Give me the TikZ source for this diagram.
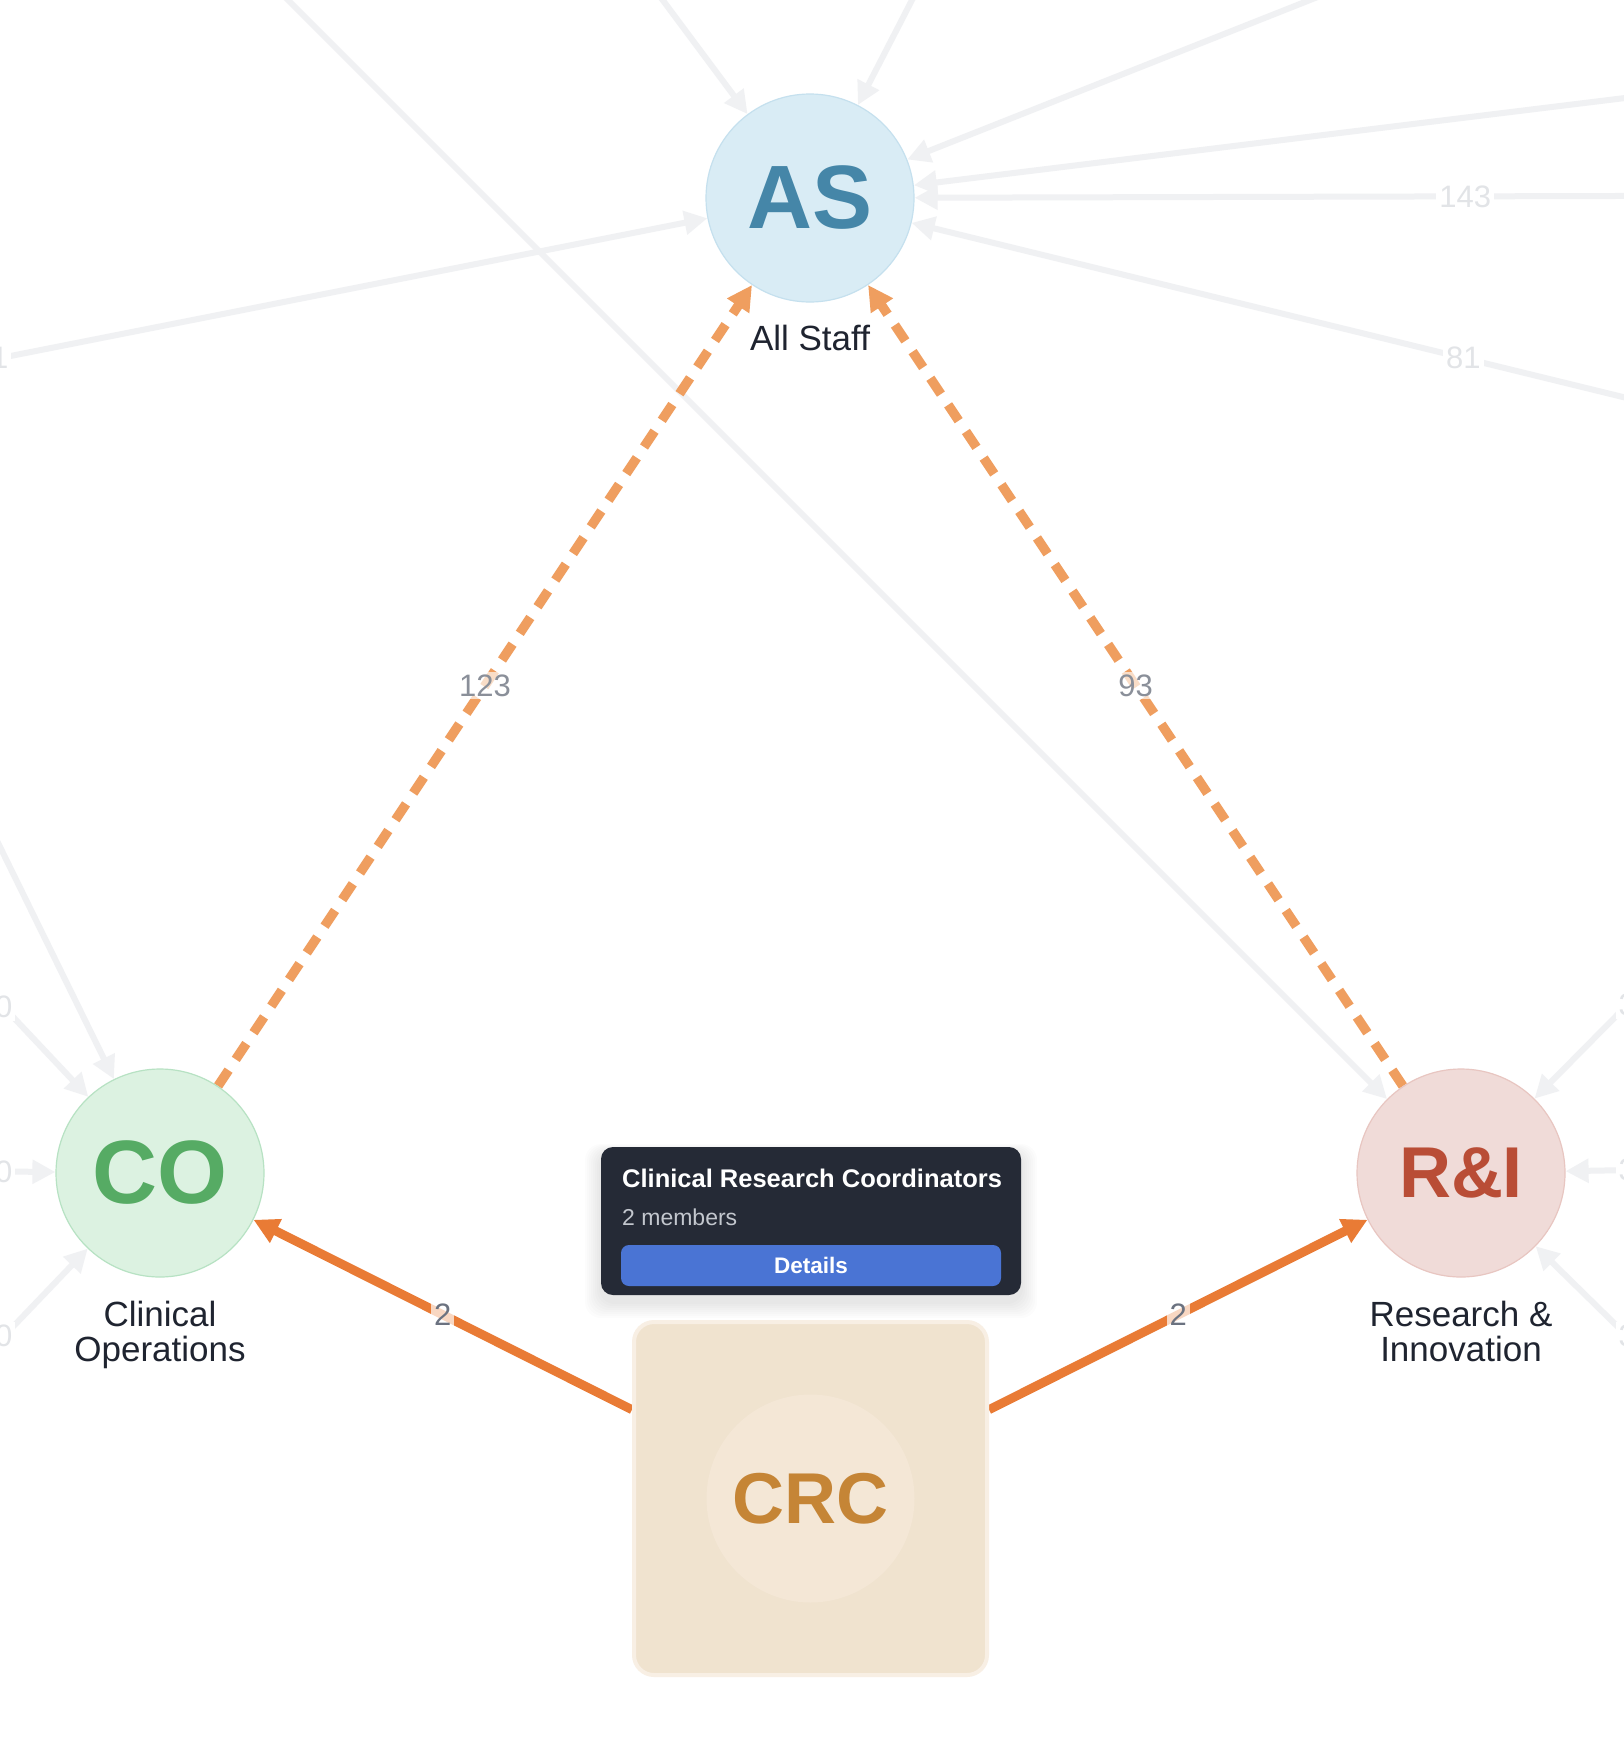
\documentclass[tikz,border=0pt]{standalone}
\usepackage{fontspec}
\setmainfont{Liberation Sans}
\usetikzlibrary{arrows.meta}
\newcommand\myfs[1]{\fontsize{#1pt}{#1pt}\selectfont}
\definecolor{asfill}{HTML}{D9ECF5}
\definecolor{asline}{HTML}{C5E0EE}
\definecolor{astext}{HTML}{4586A8}
\definecolor{cofill}{HTML}{DCF2E1}
\definecolor{coline}{HTML}{B7E2C3}
\definecolor{cotext}{HTML}{56AB64}
\definecolor{rifill}{HTML}{F0DBD8}
\definecolor{riline}{HTML}{E8C6C1}
\definecolor{ritext}{HTML}{B94D36}
\definecolor{crcfill}{HTML}{F0E3CF}
\definecolor{crcline}{HTML}{F8EFE4}
\definecolor{crcdisc}{HTML}{F4E7D6}
\definecolor{crctext}{HTML}{C58536}
\definecolor{tipbg}{HTML}{252A36}
\definecolor{tipsub}{HTML}{C3C7CE}
\definecolor{btnblue}{HTML}{4A74D4}
\definecolor{orange}{HTML}{E97B35}
\definecolor{orangedash}{HTML}{EF9E5F}
\definecolor{grayline}{HTML}{F0F1F3}
\definecolor{graytext}{HTML}{E2E4E7}
\definecolor{lbltext}{HTML}{8A8F99}
\definecolor{lbltwo}{HTML}{6B7280}
\definecolor{dark}{HTML}{1F2430}
\pgfdeclarelayer{bottom}
\pgfdeclarelayer{edges}
\pgfsetlayers{bottom,edges,main}
\begin{document}
\begin{tikzpicture}[x=1pt,y=-1pt,
  circ/.style={circle, minimum size=208pt, inner sep=0pt, line width=1.2pt},
  big/.style={font=\bfseries\myfs{90}},
  lbl/.style={text=dark, font=\myfs{35}, inner sep=0pt, align=center},
  grayedge/.style={draw=grayline, line width=6pt, -{Triangle[length=23pt,width=23pt]}},
  dashedge/.style={draw=orangedash, line width=9.5pt, dash pattern=on 19pt off 13pt, -{Triangle[length=25pt,width=25pt]}},
  solidedge/.style={draw=orange, line width=9pt, -{Triangle[length=25pt,width=25pt]}},
  graylbl/.style={fill=white, text=graytext, font=\myfs{31}, inner sep=3pt},
  orlbl/.style={fill=white, fill opacity=0.65, text opacity=1, text=lbltext, font=\myfs{31}, inner sep=3pt},
  twolbl/.style={fill=white, fill opacity=0.7, text opacity=1, text=lbltwo, font=\myfs{31}, inner sep=3pt},
]
\useasboundingbox (0,0) rectangle (1624,1748);
\clip (0,0) rectangle (1624,1748);
\begin{pgfonlayer}{bottom}
\fill[white] (0,0) rectangle (1624,1748);
\end{pgfonlayer}

% main nodes
\node[circ, fill=asfill, draw=asline, text=astext, big] (AS) at (810,198) {AS};
\node[circ, fill=cofill, draw=coline, text=cotext, big] (CO) at (160,1173) {CO};
\node[circ, fill=rifill, draw=riline, text=ritext, font=\bfseries\myfs{72}] (RI) at (1461,1173) {R\&I};
\node[rectangle, minimum size=353pt, inner sep=0pt, rounded corners=20pt, fill=crcfill, draw=crcline, line width=4pt] (CRCbox) at (810.5,1498.5) {};
\node[circle, minimum size=208pt, inner sep=0pt, fill=crcdisc, text=crctext, font=\bfseries\myfs{72}] (CRC) at (CRCbox.center) {CRC};

\node[lbl, anchor=base] (ASlbl) at (810,350) {All Staff};
\node[lbl, anchor=base] (COlbl) at (160,1361) {Clinical\\Operations};
\node[lbl, anchor=base] (RIlbl) at (1461,1361) {Research \&\\Innovation};

% free ends of background edges
\coordinate (g1) at (188,-100);
\coordinate (g2) at (589,-99);
\coordinate (g3) at (963,-99);
\coordinate (g4) at (1560,-99);
\coordinate (g5) at (2000,52);
\coordinate (g6) at (2016,195);
\coordinate (g7) at (2015,493);
\coordinate (g8) at (-708,498);
\coordinate (g9) at (-100,643);
\coordinate (g10) at (-81,917);
\coordinate (g11) at (-48,1171);
\coordinate (g12) at (-80,1424);
\coordinate (g13) at (1720,911);
\coordinate (g14) at (1689,1169);
\coordinate (g15) at (1719,1426);

\begin{pgfonlayer}{edges}
\draw[grayedge] (g1) -- (RI);
\draw[grayedge] (g2) -- (AS);
\draw[grayedge] (g3) -- (AS);
\draw[grayedge] (g4) -- (AS);
\draw[grayedge] (g5) -- (AS);
\draw[grayedge] (g6) -- node[graylbl] {143} (AS);
\draw[grayedge] (g7) -- node[graylbl] {81} (AS);
\draw[grayedge] (g8) -- node[graylbl] {1} (AS);
\draw[grayedge] (g9) -- (CO);
\draw[grayedge] (g10) -- node[graylbl] {0} (CO);
\draw[grayedge] (g11) -- node[graylbl] {0} (CO);
\draw[grayedge] (g12) -- node[graylbl] {0} (CO);
\draw[grayedge] (g13) -- node[graylbl] {3} (RI);
\draw[grayedge] (g14) -- node[graylbl] {3} (RI);
\draw[grayedge] (g15) -- node[graylbl] {3} (RI);
\draw[dashedge] (CO) -- node[orlbl] {123} (AS);
\draw[dashedge] (RI) -- node[orlbl] {93} (AS);
\draw[solidedge] (CRCbox) -- node[twolbl] {2} (CO);
\draw[solidedge] (CRCbox) -- node[twolbl] {2} (RI);
\end{pgfonlayer}

% tooltip
\foreach \s in {2,4,...,16} {
  \fill[black, opacity=0.011, rounded corners=16pt] (601-\s,1152-0.5*\s) rectangle (1021+\s,1302+\s);
}
\node[fill=tipbg, rounded corners=12pt, minimum width=420pt, minimum height=148pt, inner sep=0pt] (tip) at (811,1221) {};
\node[anchor=base west, text=white, font=\bfseries\myfs{25.5}, inner sep=0pt] (tiptitle) at (622,1187) {Clinical Research Coordinators};
\node[anchor=base west, text=tipsub, font=\myfs{23}, inner sep=0pt] (tipcount) at (622,1225) {2 members};
\node[fill=btnblue, rounded corners=8pt, minimum width=380pt, minimum height=41pt, inner sep=0pt, text=white, font=\bfseries\myfs{22.5}] (details) at (811,1265.5) {Details};
\end{tikzpicture}
\end{document}
